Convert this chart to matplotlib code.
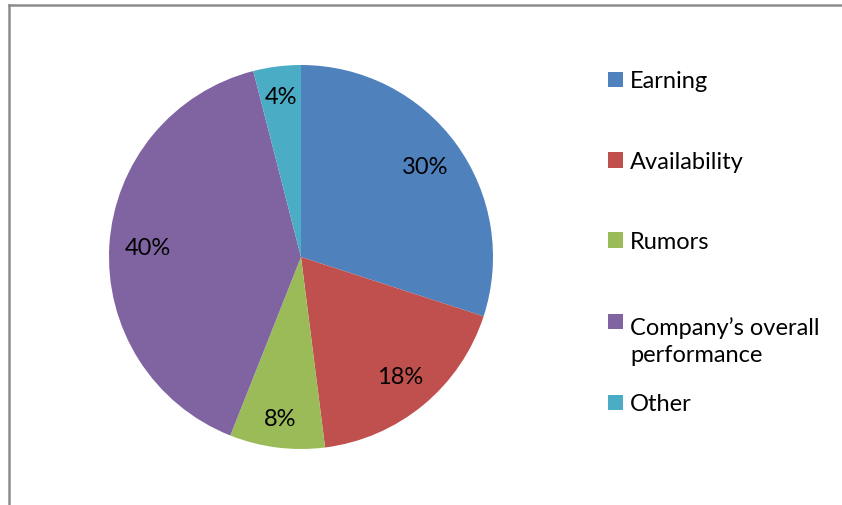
import numpy as np
import matplotlib
matplotlib.use("Agg")
import matplotlib.pyplot as plt
from matplotlib.lines import Line2D
from matplotlib.patches import Rectangle

plt.rcParams['font.family'] = ['Lato', 'DejaVu Sans']

labels = ["Earning", "Availability", "Rumors", "Company\u2019s overall\nperformance", "Other"]
shares = [30, 18, 8, 40, 4]
colors = ["#4F81BD", "#C0504D", "#9BBB59", "#8064A2", "#4BACC6"]

W, H = 842, 506
fig = plt.figure(figsize=(W / 100, H / 100), dpi=100)

# pie centred at (301, 258) px, radius 192 px
cx, cy, r = 301, 258, 192
ax = fig.add_axes([(cx - r) / W, (H - cy - r) / H, 2 * r / W, 2 * r / H])
wedges, texts, autotexts = ax.pie(
    shares, colors=colors, startangle=90, counterclock=False,
    autopct="%d%%", pctdistance=0.81,
    textprops=dict(fontsize=17, color="black"),
    wedgeprops=dict(linewidth=0))

# small slices get their labels pushed a little further out
label_dist = [0.80, 0.81, 0.85, 0.80, 0.845]
for w, t, d in zip(wedges, autotexts, label_dist):
    ang = np.deg2rad((w.theta1 + w.theta2) / 2)
    t.set_position((d * np.cos(ang), d * np.sin(ang)))

ax.set_xlim(-1, 1)
ax.set_ylim(-1, 1)
ax.set_aspect("equal")

# chart-area frame (top and left edges)
fig.add_artist(Line2D([8.5 / W, 8.5 / W], [0, 1 - 5.5 / H], color="#8c8c8c", lw=1.8,
                      transform=fig.transFigure))
fig.add_artist(Line2D([8.5 / W, 1], [1 - 5.5 / H, 1 - 5.5 / H], color="#8c8c8c", lw=1.8,
                      transform=fig.transFigure))

# legend: marker sits beside the first line of each label
legend_y = [80.5, 161, 241, 322, 403]
line_h = 32  # px between wrapped lines
for lab, col, y in zip(labels, colors, legend_y):
    fig.add_artist(Rectangle((608 / W, 1 - (y + 7.5) / H), 15 / W, 15 / H,
                             facecolor=col, edgecolor="none", transform=fig.transFigure))
    n = lab.count("\n")
    # matplotlib puts the last line on the baseline
    fig.text(630 / W, 1 - (y + 8 + n * line_h) / H, lab, fontsize=17,
             va="baseline", ha="left", linespacing=1.36)

fig.savefig("out.png", dpi=100, facecolor="white")
